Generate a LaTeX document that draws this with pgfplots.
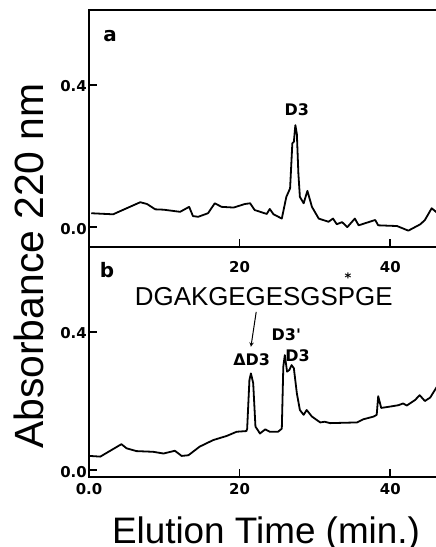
\documentclass[border=0pt]{standalone}
\usepackage{pgfplots}
\pgfplotsset{compat=1.18}
\usepackage{fontspec}
\setmainfont{Liberation Sans}
\newfontfamily\dvs{DejaVu Sans}
\newcommand\tlf{\dvs\bfseries\fontsize{15}{15}\selectfont}
\newcommand\pk{\dvs\bfseries\fontsize{16}{16}\selectfont}

\pgfplotsset{
  chrom/.style={
    scale only axis,
    width=360bp,
    xmin=0, xmax=47.8,
    axis line style={line width=1.6bp},
    every tick/.style={black, line width=1.6bp},
    major tick length=8bp,
    tick align=inside,
    ytick pos=left,
    xtick pos=bottom,
    ytick={0,0.4},
    xticklabels={}, yticklabels={},
    clip=false,
  },
  trace/.style={black, line width=1.8bp, line join=round},
}
\tikzset{
  ylab/.style={anchor=east, xshift=-2bp, yshift=-1.5bp, font=\tlf, inner sep=0pt},
  xlab/.style={anchor=base, font=\tlf, inner sep=0pt},
}

\begin{document}
\begin{tikzpicture}
\useasboundingbox (0,0) rectangle (436bp,547bp);
\clip (0,0) rectangle (436bp,547bp);

% panel a
\begin{axis}[chrom,
  at={(89bp,300bp)}, anchor=south west,
  height=237bp,
  ymin=-0.056, ymax=0.611,
  xtick={20,40},
]
\addplot[trace] coordinates {
(0.3,0.039) (3.2,0.036) (6.8,0.070) (7.7,0.065) (8.8,0.050) (9.9,0.049)
(12.1,0.043) (13.3,0.057) (13.8,0.031) (14.5,0.029) (15.8,0.039) (16.7,0.067)
(17.6,0.057) (19.2,0.055) (20.7,0.065) (21.4,0.067) (22.0,0.048) (23.6,0.037)
(24.0,0.051) (24.5,0.036) (25.6,0.024) (26.2,0.085) (26.7,0.109) (27.0,0.236)
(27.2,0.240) (27.4,0.287) (27.6,0.262) (27.8,0.151) (28.0,0.085) (28.5,0.067)
(29.0,0.102) (29.6,0.057) (30.5,0.024) (31.8,0.015) (32.4,0.024) (32.9,0.008)
(33.6,0.014) (34.3,0.000) (35.3,0.024) (35.8,0.005) (38.0,0.020) (38.4,0.005)
(40.9,0.003) (42.4,-0.010) (44.0,0.008) (44.6,0.020) (45.5,0.053) (46.3,0.039)
};
\node[ylab] at (axis cs:0,0) {0.0};
\node[ylab] at (axis cs:0,0.4) {0.4};
\node[xlab, yshift=-26bp] at (axis cs:20,-0.056) {20};
\node[xlab, yshift=-26bp] at (axis cs:40,-0.056) {40};
\node[anchor=base, font=\dvs\bfseries\fontsize{20}{20}\selectfont] at (axis cs:2.8,0.521) {a};
\node[anchor=base, font=\pk] at (axis cs:27.6,0.315) {D3};
\end{axis}

% panel b
\begin{axis}[chrom,
  at={(89bp,70bp)}, anchor=south west,
  height=230bp,
  ymin=-0.02, ymax=0.646,
  xtick={0,20,40},
]
\addplot[trace] coordinates {
(0.1,0.041) (1.5,0.039) (4.3,0.075) (5.0,0.063) (6.3,0.055) (8.5,0.053)
(9.9,0.048) (11.4,0.056) (12.3,0.041) (13.2,0.043) (14.7,0.068) (16.5,0.087)
(18.3,0.099) (19.6,0.111) (20.9,0.113) (21.0,0.120) (21.3,0.261) (21.5,0.280)
(21.8,0.252) (22.1,0.126) (22.7,0.106) (23.4,0.118) (24.0,0.111) (25.1,0.111)
(25.6,0.120) (25.8,0.300) (26.0,0.333) (26.3,0.285) (26.6,0.290) (26.9,0.304)
(27.2,0.295) (27.6,0.222) (28.0,0.174) (28.5,0.160) (28.9,0.174) (29.6,0.155)
(30.7,0.138) (31.3,0.140) (32.0,0.136) (33.8,0.137) (35.6,0.138) (36.4,0.147)
(37.8,0.155) (38.2,0.160) (38.4,0.214) (38.8,0.180) (40.0,0.184) (41.1,0.188)
(41.7,0.193) (42.2,0.187) (43.3,0.203) (43.9,0.217) (44.6,0.200) (45.3,0.210)
(46.3,0.245)
};
\node[ylab] at (axis cs:0,0) {0.0};
\node[ylab] at (axis cs:0,0.4) {0.4};
\node[xlab, yshift=-18bp] at (axis cs:0,-0.02) {0.0};
\node[xlab, yshift=-18bp] at (axis cs:20,-0.02) {20};
\node[xlab, yshift=-18bp] at (axis cs:40,-0.02) {40};
\node[anchor=base, font=\dvs\bfseries\fontsize{20}{20}\selectfont] at (axis cs:2.4,0.559) {b};
\node[anchor=base, font=\fontsize{26}{26}\selectfont] at (axis cs:23.2,0.478) {DGAKGEGESGSPGE};
\node[inner sep=0pt, font=\dvs\bfseries\fontsize{13}{13}\selectfont] at (axis cs:34.4,0.556) {*};
\draw[->, line width=1bp, >=stealth] (axis cs:22.2,0.458) -- (axis cs:21.5,0.357);
\node[anchor=base, font=\pk] at (axis cs:21.6,0.304) {ΔD3};
\node[anchor=base, font=\pk] at (axis cs:26.2,0.374) {D3'};
\node[anchor=base, font=\pk] at (axis cs:27.7,0.313) {D3};
\end{axis}

\node[rotate=90, anchor=base, font=\fontsize{41}{41}\selectfont] at (43bp,281bp) {Absorbance 220 nm};
\node[anchor=base, font=\fontsize{37}{37}\selectfont] at (266bp,4bp) {Elution Time (min.)};
\end{tikzpicture}
\end{document}
